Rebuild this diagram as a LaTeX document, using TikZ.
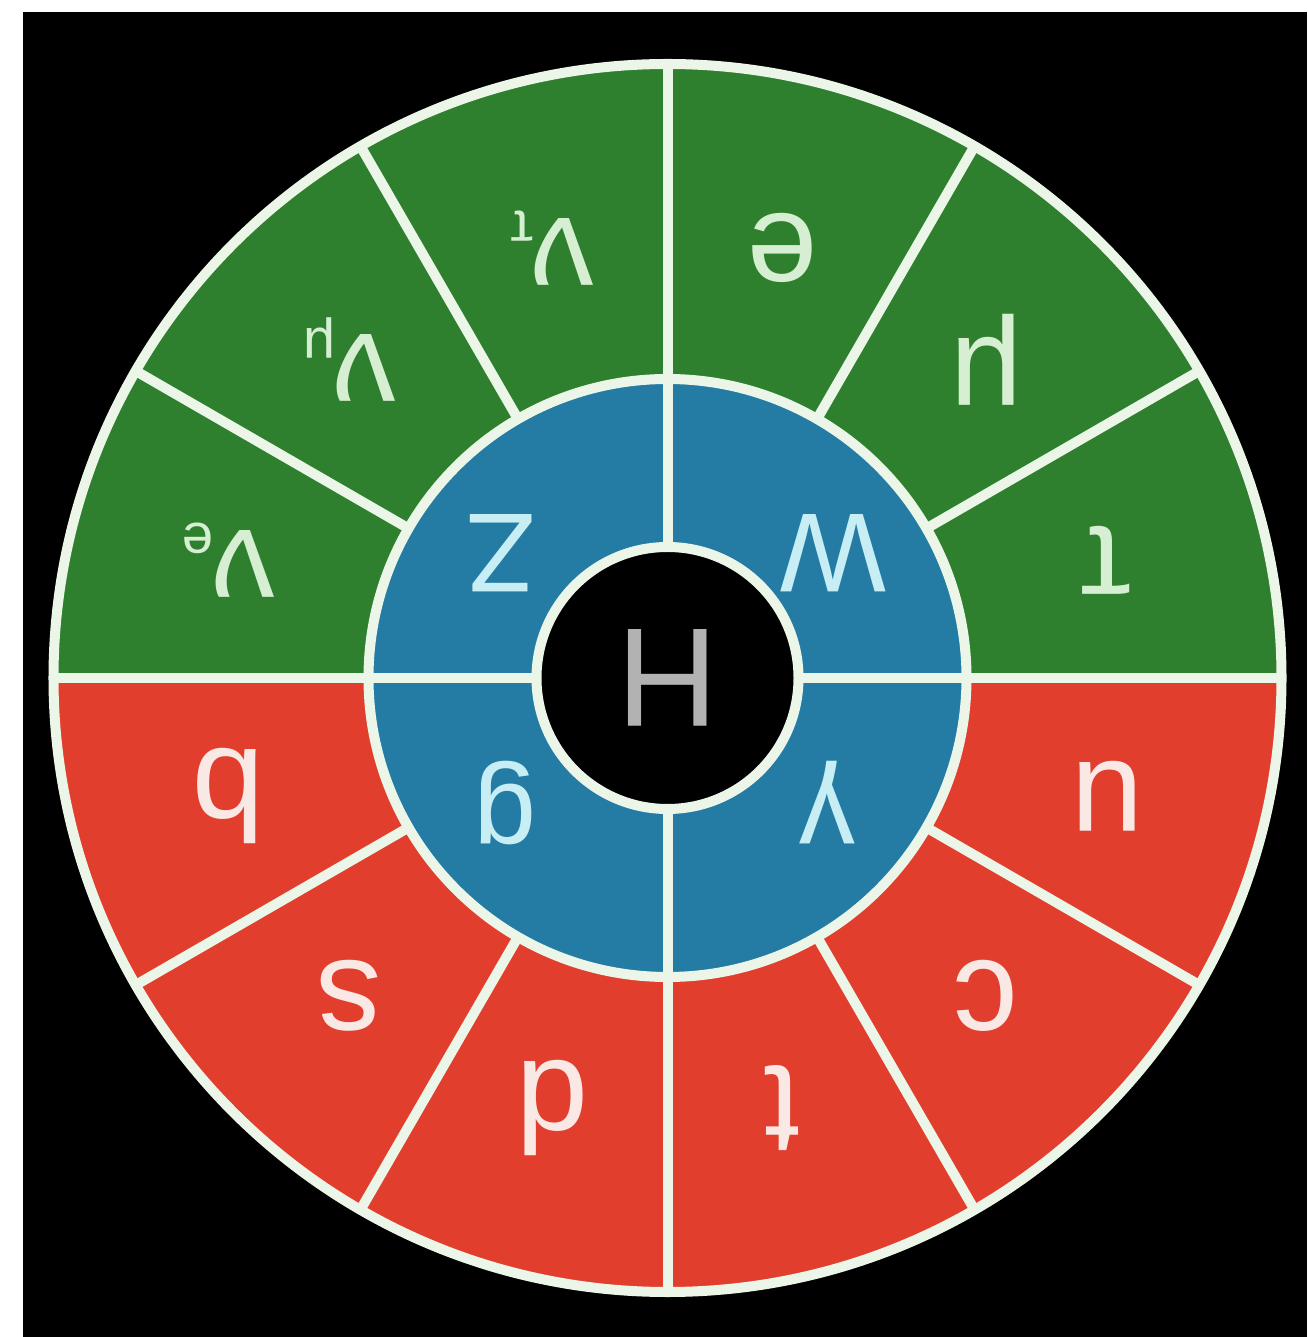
\documentclass[tikz,border=0pt]{standalone}
\usepackage{fontspec}
\setmainfont{Liberation Sans}
\usetikzlibrary{positioning}
\definecolor{leptongreen}{RGB}{46,128,46}
\definecolor{quarkred}{RGB}{226,62,46}
\definecolor{bosonblue}{RGB}{36,124,164}
\definecolor{rimwhite}{RGB}{236,246,232}
\definecolor{greentext}{RGB}{214,238,210}
\definecolor{bluetext}{RGB}{200,238,245}
\definecolor{redtext}{RGB}{250,232,228}
\definecolor{higgsgray}{RGB}{178,178,178}
\newcommand{\flav}[1]{\kern-0.02em\raisebox{-0.05em}{\fontsize{16}{16}\selectfont #1}}

\begin{document}
\begin{tikzpicture}[rim/.style={draw=rimwhite, line width=0.1cm},
  lepton/.style={text=greentext, rotate=180, inner sep=0pt, font=\fontsize{36}{36}\selectfont},
  quark/.style={text=redtext, rotate=180, inner sep=0pt, font=\fontsize{37}{37}\selectfont},
  boson/.style={text=bluetext, rotate=180, inner sep=0pt, font=\fontsize{32}{32}\selectfont}]
\useasboundingbox (-6.675,-6.59) rectangle (6.395,6.78);
\fill[black] (-6.445,-6.59) rectangle (6.395,6.66);
% the two halves and the inner discs
\fill[leptongreen] (6.14,0) arc[start angle=0, end angle=180, radius=6.14] -- cycle;
\fill[quarkred] (6.14,0) arc[start angle=0, end angle=-180, radius=6.14] -- cycle;
\fill[bosonblue] (0,0) circle[radius=2.99];
\fill[black] (0,0) circle[radius=1.31];
% white rims and spokes
\draw[rim] (0,0) circle[radius=6.14];
\draw[rim] (0,0) circle[radius=2.99];
\draw[rim] (0,0) circle[radius=1.31];
\foreach \a in {0,30,...,330}
  \draw[rim] (\a:2.99) -- (\a:6.14);
\foreach \a in {0,90,180,270}
  \draw[rim] (\a:1.31) -- (\a:2.99);
% leptons
\node[lepton] (e) at (75:4.45) {e};
\node[lepton] (mu) at (45:4.5) {μ};
\node[lepton] (tau) at (15:4.55) {τ};
\node[lepton] (nutau) at (105:4.45) {ν\flav{τ}};
\node[lepton] (numu) at (135:4.5) {ν\flav{μ}};
\node[lepton] (nue) at (165:4.55) {ν\flav{e}};
% quarks
\node[quark] (u) at (-15:4.55) {u};
\node[quark] (c) at (-45:4.5) {c};
\node[quark] (t) at (-75:4.45) {t};
\node[quark] (d) at (-105:4.45) {d};
\node[quark] (s) at (-135:4.5) {s};
\node[quark] (b) at (-165:4.55) {b};
% gauge bosons and the Higgs
\node[boson] (W) at (1.66,1.25) {W};
\node[boson] (Z) at (-1.66,1.25) {Z};
\node[boson] (g) at (-1.62,-1.25) {g};
\node[boson] (gamma) at (1.6,-1.25) {γ};
\node[text=higgsgray, rotate=180, inner sep=0pt, font=\fontsize{40}{40}\selectfont] (H) at (0,0) {H};
\end{tikzpicture}
\end{document}
